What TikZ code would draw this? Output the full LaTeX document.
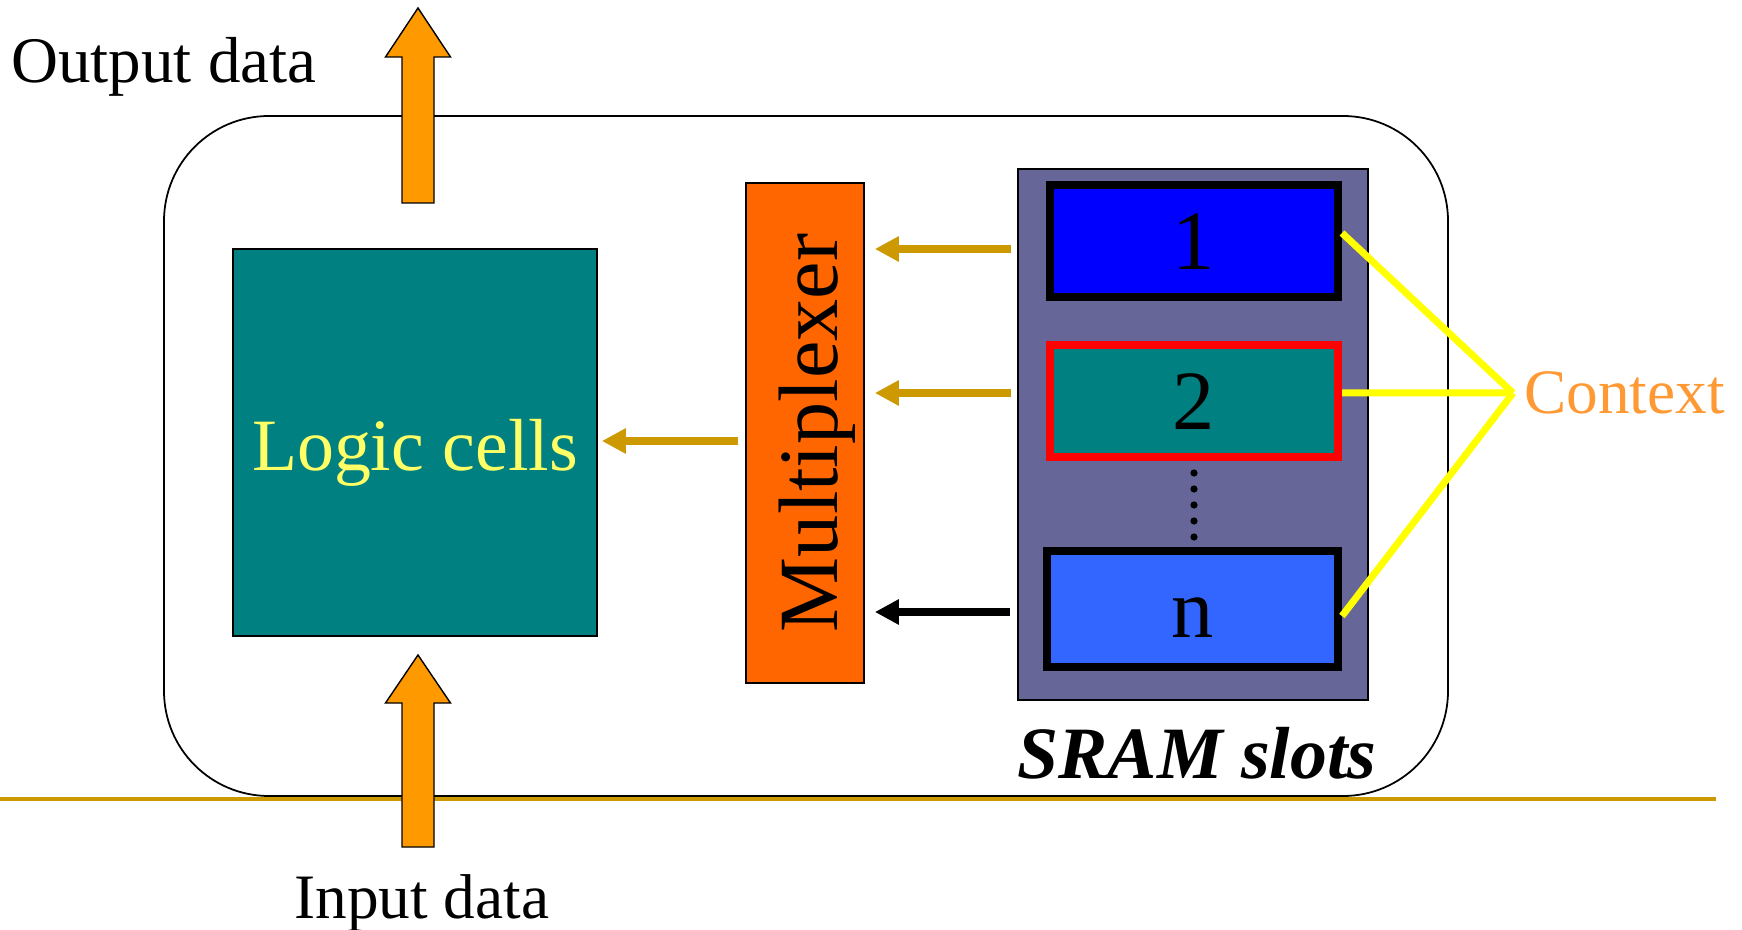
\documentclass[tikz,border=0pt]{standalone}
\usepackage{fontspec}
\setmainfont{Liberation Serif}
\usetikzlibrary{arrows.meta, positioning, calc}
\definecolor{cellteal}{HTML}{008080}
\definecolor{celltext}{HTML}{FFFF66}
\definecolor{muxorange}{HTML}{FF6600}
\definecolor{sramviolet}{HTML}{666699}
\definecolor{slotblue}{HTML}{0000FF}
\definecolor{slotlight}{HTML}{3366FF}
\definecolor{feedgold}{HTML}{CC9900}
\definecolor{ioorange}{HTML}{FF9900}
\definecolor{ctxorange}{HTML}{FF9933}
\definecolor{ctxyellow}{HTML}{FFFF00}

\begin{document}
\begin{tikzpicture}[
  slotbox/.style={rectangle, line width=0.16cm, minimum width=5.76cm, minimum height=2.24cm,
                inner sep=0pt, text height=32.5pt, text depth=0pt, font=\fontsize{48}{48}\selectfont},
  feed/.style={-{Triangle[length=0.48cm, width=0.48cm]}, line width=0.16cm, draw=#1},
  ctxline/.style={line width=0.14cm, draw=ctxyellow},
  bigarrow/.style={fill=ioorange, draw=black, line width=0.8pt, line join=miter},
  iolabel/.style={font=\fontsize{37}{37}\selectfont, inner sep=0pt},
  scale=1.0
]
\useasboundingbox (0,0) rectangle (34.84,18.58);

% === Device frame ===
\node[draw, line width=1pt, rounded corners=2.1cm, minimum width=25.68cm, minimum height=13.6cm]
  (chip) at (16.12, 9.46) {};

% === Logic, multiplexer and SRAM ===
\node[draw, line width=1pt, fill=cellteal, minimum width=7.28cm, minimum height=7.74cm] (logic) at (8.3, 9.73) {};
\node[text=celltext, font=\fontsize{42}{42}\selectfont] (logiclbl) at ([yshift=-0.2cm]logic.center) {Logic cells};

\node[draw, line width=1pt, fill=muxorange, minimum width=2.36cm, minimum height=10cm] (mux) at (16.1, 9.92) {};
\node[rotate=90, font=\fontsize{48}{48}\selectfont] (muxlbl) at ([xshift=0.24cm]mux.center) {Multiplexer};

\node[draw, line width=1.2pt, fill=sramviolet, minimum width=7cm, minimum height=10.62cm] (sram) at (23.86, 9.89) {};

\node[slotbox, draw=black, fill=slotblue]  (s1) at (23.88, 13.76) {1};
\node[slotbox, draw=red,   fill=cellteal]  (s2) at (23.88, 10.56) {2};
\node[slotbox, draw=black, fill=slotlight, minimum width=5.82cm, minimum height=2.32cm] (sn) at (23.85, 6.4) {n};

\foreach \k in {0,...,4}
  \fill (23.88, 9.12-0.32*\k) circle (0.072);

\node[font=\fontsize{42}{42}\selectfont\bfseries\itshape, anchor=base, inner sep=0pt] (sramlbl) at (23.94, 3.02) {SRAM slots};

% === Data flow ===
\draw[feed=feedgold, shorten <=0.12cm, shorten >=0.2cm] ([yshift=-0.16cm]sram.west |- s1.east) -- ([yshift=-0.16cm]mux.east |- s1.east);
\draw[feed=feedgold, shorten <=0.12cm, shorten >=0.2cm] ([yshift=0.16cm]sram.west |- s2.east) -- ([yshift=0.16cm]mux.east |- s2.east);
\draw[feed=black, shorten <=0.14cm, shorten >=0.2cm] ([yshift=-0.06cm]sram.west |- sn.east) -- ([yshift=-0.06cm]mux.east |- sn.east);
\draw[feed=feedgold, shorten <=0.14cm, shorten >=0.08cm] ([yshift=0.03cm]mux.west |- logic.east) -- ([yshift=0.03cm]logic.east);

% === Context ===
\node[anchor=west, inner sep=0.22cm, text=ctxorange, font=\fontsize{36}{36}\selectfont] (ctx) at (30.26, 10.72) {Context};
\draw[ctxline] ([yshift=0.16cm]s1.east) -- (ctx.west);
\draw[ctxline] ([yshift=0.16cm]s2.east) -- (ctx.west);
\draw[ctxline] ([yshift=-0.14cm]sn.east) -- (ctx.west);

% === Rule and I/O ===
\draw[feedgold, line width=0.08cm] (0, 2.6) -- (34.32, 2.6);

\foreach \b/\h/\t in {14.52/17.44/18.42, 1.64/4.52/5.48}
  \draw[bigarrow] (8.04,\b) -- (8.04,\h) -- (7.71,\h) -- (8.36,\t) -- (9.01,\h) -- (8.68,\h) -- (8.68,\b) -- cycle;

\node[iolabel, anchor=base west] (outlbl) at (0.22, 16.92) {Output data};
\node[iolabel, anchor=base west, font=\fontsize{36}{36}\selectfont] (inlbl) at (5.88, 0.22) {Input data};

\end{tikzpicture}
\end{document}
